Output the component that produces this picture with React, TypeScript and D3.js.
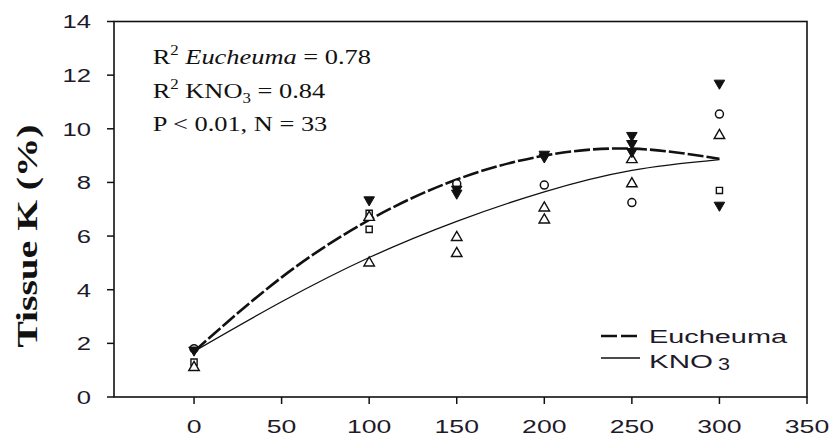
import React from "react";
import * as d3 from "d3";

const W = 831;
const H = 437;

// x positions (NO3 dose) of the observation groups
const doses = [0, 100, 150, 200, 250, 300];
// Eucheuma treatment, filled inverted triangles
const eucheumaFilled: number[][] = [[1.75], [7.35], [7.6, 7.75], [9.05, 8.95], [9.75, 9.45, 9.15], [11.7, 7.15]];
// Eucheuma treatment, open squares
const eucheumaOpen: number[][] = [[1.3], [6.85, 6.25], [], [], [], [7.7]];
// KNO3 treatment, open triangles
const kno3Triangles: number[][] = [[1.1], [6.7, 5.0], [5.95, 5.35], [7.05, 6.6], [8.85, 7.95], [9.75]];
// KNO3 treatment, open circles
const kno3Circles: number[][] = [[1.8], [], [7.95], [7.9], [7.25], [10.55]];

// fitted curves
const fitDoses = [0, 50, 100, 150, 200, 250, 300];
const eucheumaFit = [1.7, 4.46, 6.6, 8.11, 9.0, 9.26, 8.88];
const kno3Fit = [1.7, 3.55, 5.2, 6.55, 7.65, 8.45, 8.85];

const xTicks = [0, 50, 100, 150, 200, 250, 300, 350];
const yTicks = [0, 2, 4, 6, 8, 10, 12, 14];

const left = 114, right = 807, top = 21.5, bottom = 397;

export default function App() {
  const x = d3.scaleLinear().domain([-45.7, 350]).range([left, right]);
  const y = d3.scaleLinear().domain([0, 14]).range([bottom, top]);

  const line = d3
    .line<[number, number]>()
    .x((d) => x(d[0]))
    .y((d) => y(d[1]))
    .curve(d3.curveNatural);

  const eFit = line(fitDoses.map((d, i) => [d, eucheumaFit[i]] as [number, number])) || "";
  const kFit = line(fitDoses.map((d, i) => [d, kno3Fit[i]] as [number, number])) || "";

  const tri = d3.symbol().type(d3.symbolTriangle).size(48)() || "";
  const sq = d3.symbol().type(d3.symbolSquare).size(38)() || "";

  const flat = (arr: number[][]) =>
    arr.flatMap((vals, i) => vals.map((v) => [doses[i], v] as [number, number]));

  const axisFont = "'Liberation Sans', Arial, sans-serif";
  const serif = "'Liberation Serif', 'Times New Roman', serif";
  const tickColor = "#1e1a2a";

  return (
    <svg width={W} height={H} style={{ position: "absolute", left: 0, top: 0, background: "#fff" }}>
      <rect x={0} y={0} width={W} height={H} fill="#fff" />

      {/* frame */}
      <rect x={left} y={top} width={right - left} height={bottom - top} fill="none" stroke="#111" strokeWidth={1.6} />

      {/* y ticks */}
      {yTicks.map((t) => (
        <g key={"y" + t}>
          <line x1={left - 7} x2={left} y1={y(t)} y2={y(t)} stroke="#111" strokeWidth={1.5} />
          <text
            transform={`translate(91,${y(t) + 6.8}) scale(1.35,1)`}
            textAnchor="end"
            fontFamily={axisFont}
            fontSize={19}
            fill={tickColor}
          >
            {t}
          </text>
        </g>
      ))}

      {/* x ticks */}
      {xTicks.map((t) => (
        <g key={"x" + t}>
          <line x1={x(t)} x2={x(t)} y1={bottom} y2={bottom + 7} stroke="#111" strokeWidth={1.5} />
          <text
            transform={`translate(${x(t)},432.5) scale(1.4,1)`}
            textAnchor="middle"
            fontFamily={axisFont}
            fontSize={19}
            fill={tickColor}
          >
            {t}
          </text>
        </g>
      ))}

      {/* y axis title */}
      <text
        transform="translate(37,236) rotate(-90)"
        textAnchor="middle"
        fontFamily={serif}
        fontWeight="bold"
        fontSize={30}
        textLength={223}
        lengthAdjust="spacingAndGlyphs"
        fill="#111"
      >
        Tissue K (%)
      </text>

      {/* fitted curves */}
      <path d={kFit} fill="none" stroke="#111" strokeWidth={1.3} />
      <path d={eFit} fill="none" stroke="#111" strokeWidth={2.6} strokeDasharray="16 3" />

      {/* points */}
      {flat(eucheumaOpen).map(([d, v], i) => (
        <path key={"eo" + i} d={sq} transform={`translate(${x(d)},${y(v)})`} fill="#fff" stroke="#111" strokeWidth={1.4} />
      ))}
      {flat(kno3Triangles).map(([d, v], i) => (
        <path key={"kt" + i} d={tri} transform={`translate(${x(d)},${y(v)})`} fill="#fff" stroke="#111" strokeWidth={1.4} />
      ))}
      {flat(kno3Circles).map(([d, v], i) => (
        <circle key={"kc" + i} cx={x(d)} cy={y(v)} r={4} fill="#fff" stroke="#111" strokeWidth={1.5} />
      ))}
      {flat(eucheumaFilled).map(([d, v], i) => (
        <path key={"ef" + i} d={tri} transform={`translate(${x(d)},${y(v)}) rotate(180)`} fill="#111" stroke="#111" strokeWidth={1} />
      ))}

      {/* statistics annotation */}
      <g transform="translate(152.7,0) scale(1.2,1)" fontFamily={serif} fontSize={22} fill="#111">
        <text x={0} y={64.5}>
          R<tspan fontSize={14} dy={-9}>2</tspan>
          <tspan dy={9}> </tspan>
          <tspan fontStyle="italic">Eucheuma</tspan> = 0.78
        </text>
        <text x={0} y={98}>
          R<tspan fontSize={14} dy={-9}>2</tspan>
          <tspan dy={9}> KNO</tspan>
          <tspan fontSize={14} dy={5}>3</tspan>
          <tspan dy={-5}> = 0.84</tspan>
        </text>
        <text x={0} y={131}>P &lt; 0.01, N = 33</text>
      </g>

      {/* legend */}
      <line x1={601} x2={640} y1={336} y2={336} stroke="#111" strokeWidth={2.6} strokeDasharray="16 4" />
      <text x={649} y={343} fontFamily={axisFont} fontSize={18} textLength={138} lengthAdjust="spacingAndGlyphs" fill={tickColor}>
        Eucheuma
      </text>
      <line x1={601} x2={640} y1={358} y2={358} stroke="#111" strokeWidth={1.3} />
      <text x={649} y={368} fontFamily={axisFont} fontSize={18} textLength={64} lengthAdjust="spacingAndGlyphs" fill={tickColor}>
        KNO
      </text>
      <text x={718} y={370} fontFamily={axisFont} fontSize={16} textLength={12} lengthAdjust="spacingAndGlyphs" fill={tickColor}>
        3
      </text>
    </svg>
  );
}
